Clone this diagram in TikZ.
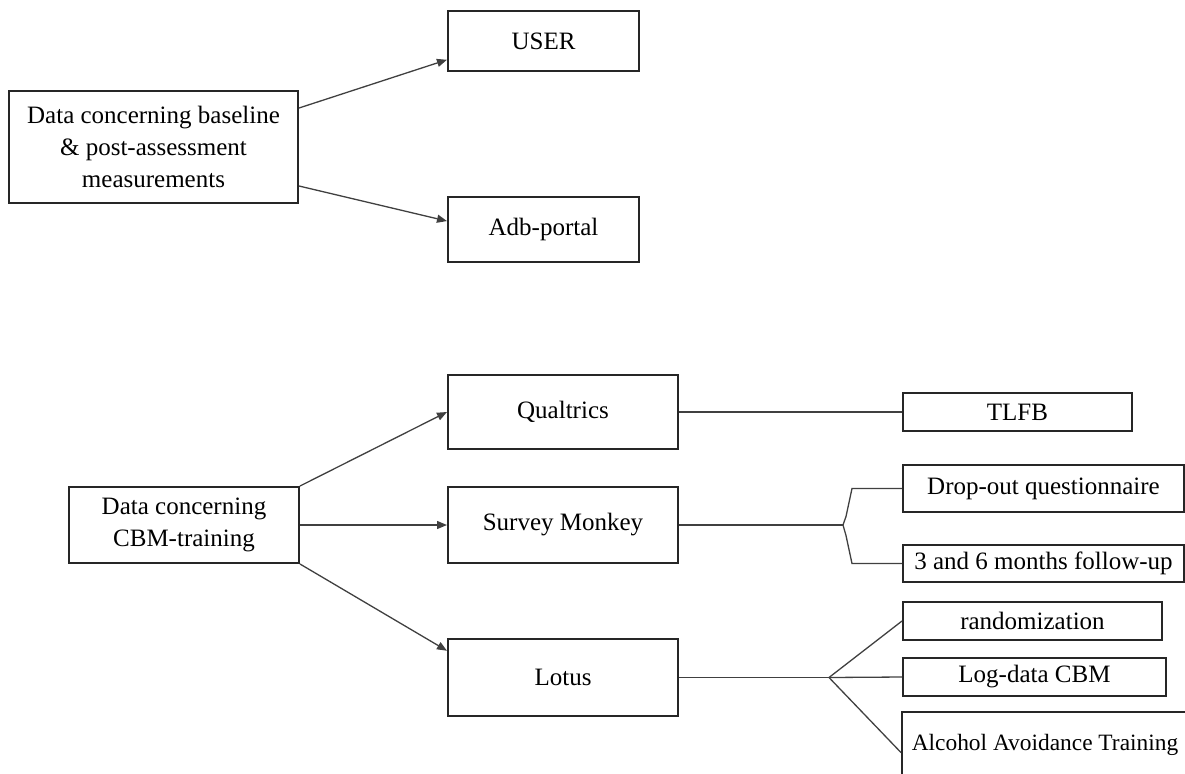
\documentclass[tikz,border=0pt]{standalone}
\usepackage{fontspec}
\setmainfont{Liberation Serif}
\usepackage{tikz}
\usetikzlibrary{arrows.meta}

\tikzset{
  databox/.style={draw=black!85, line width=1pt, inner sep=0pt, align=center,
    font=\fontsize{12.5}{16}\selectfont},
  link/.style={draw=black!75, line width=0.65pt},
}

\begin{document}
\begin{tikzpicture}[x=0.5pt, y=-0.5pt, >={Triangle[length=5pt,width=4pt]}]
        \useasboundingbox (0,0) rectangle (1185,773);
        \clip (0,0) rectangle (1185,773);

        \node[databox, minimum width=144.5pt, minimum height=56pt] (nodeBase) at (153.5,147) {Data concerning baseline\\ \& post-assessment\\ measurements};
        \node[databox, minimum width=95.5pt, minimum height=30pt] (nodeUser) at (543.5,41) {USER};
        \node[databox, minimum width=95.5pt, minimum height=32.5pt] (nodeAdb) at (543.5,229.5) {Adb-portal};

        \node[databox, minimum width=115pt, minimum height=38pt] (nodeCBM) at (184,525) {Data concerning\\ CBM-training};
        \node[databox, minimum width=115pt, minimum height=37pt] (nodeQual) at (563,412) {Qualtrics};
        \node[databox, minimum width=115pt, minimum height=38pt] (nodeSurvey) at (563,525) {Survey Monkey};
        \node[databox, minimum width=115pt, minimum height=38.5pt] (nodeLotus) at (563,677.5) {Lotus};

        \node[databox, minimum width=114.5pt, minimum height=19pt] (nodeTLFB) at (1017.5,412) {TLFB};
        \node[databox, minimum width=140.5pt, minimum height=23.5pt] (nodeDrop) at (1043.5,488.5) {Drop-out questionnaire};
        \node[databox, minimum width=140.5pt, minimum height=18.5pt] (nodeFollow) at (1043.5,563.5) {3 and 6 months follow-up};
        \node[databox, minimum width=129.5pt, minimum height=19pt] (nodeRand) at (1032.5,621) {randomization};
        \node[databox, minimum width=131.5pt, minimum height=19pt] (nodeLog) at (1034.5,677) {Log-data CBM};
        \node[databox, minimum width=143pt, minimum height=33pt, font=\fontsize{11.7}{16}\selectfont] (nodeAlc) at (1045,745) {Alcohol Avoidance Training};

        \coordinate (surveyJ) at (843,525);
        \coordinate (lotusJ) at (829,677.5);

        \draw[link, ->] (nodeBase.15) -- (nodeUser.191);
        \draw[link, ->] (nodeBase.-15) -- (nodeAdb.175);

        \draw[link, ->] (nodeCBM.north east) -- (nodeQual.west);
        \draw[link, ->] (nodeCBM.east) -- (nodeSurvey.west);
        \draw[link, ->] (nodeCBM.south east) -- (nodeLotus.167);

        \draw[link] (nodeQual.east) -- (nodeTLFB.west);
        \draw[link] (nodeSurvey.east) -- (surveyJ);
        \draw[link] (nodeDrop.west) -- ++(-50,0) -- ++(-6,28) -- (surveyJ);
        \draw[link] (nodeFollow.west) -- ++(-50,0) -- ++(-6,-28) -- (surveyJ);

        \draw[link] (nodeLotus.east) -- (lotusJ);
        \draw[link] (lotusJ) -- (nodeRand.west);
        \draw[link] (lotusJ) -- (nodeLog.west);
        \draw[link] (lotusJ) -- (nodeAlc.183);
    \end{tikzpicture}
\end{document}
